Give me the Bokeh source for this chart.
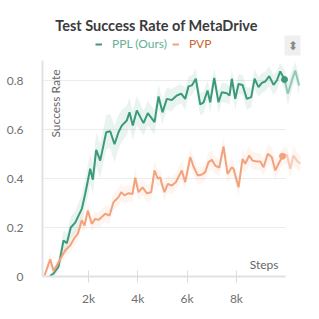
from bokeh.plotting import figure
from bokeh.models import (Legend, LegendItem, Label, FixedTicker, Range1d)
from bokeh.embed import file_html
from bokeh.resources import INLINE
import numpy as np

# ---------------- data ----------------
ppl_steps = [418, 580, 783, 986, 1120, 1282, 1460, 1728, 1866, 1972, 2069, 2175,
             2313, 2475, 2718, 2880, 3055, 3217, 3351, 3554, 3663, 3797, 3960,
             4231, 4406, 4678, 4840, 5002, 5177, 5380, 5582, 5761, 5923, 6057,
             6191, 6353, 6532, 6666, 6828, 6937, 7100, 7274, 7408, 7611, 7721,
             7814, 7952, 8086, 8248, 8422, 8601, 8735, 8897, 9031, 9169, 9331,
             9506, 9640, 9778, 9952, 10086, 10248, 10386, 10548]
ppl_rate = [0.0, 0.012, 0.04, 0.147, 0.136, 0.20, 0.22, 0.276, 0.337, 0.39, 0.44, 0.395,
            0.517, 0.473, 0.589, 0.593, 0.54, 0.589, 0.616, 0.637, 0.67, 0.616, 0.678,
            0.626, 0.667, 0.63, 0.735, 0.67, 0.725, 0.72, 0.739, 0.746, 0.725, 0.776,
            0.78, 0.807, 0.702, 0.711, 0.759, 0.711, 0.811, 0.711, 0.752, 0.748, 0.739,
            0.807, 0.725, 0.786, 0.782, 0.725, 0.732, 0.807, 0.773, 0.79, 0.796, 0.818,
            0.782, 0.80, 0.837, 0.804, 0.746, 0.80, 0.84, 0.78]
ppl_spread = [0.01, 0.015, 0.02, 0.04, 0.04, 0.045, 0.045, 0.06, 0.06, 0.065, 0.06, 0.06,
              0.07, 0.07, 0.07, 0.07, 0.075, 0.07, 0.065, 0.06, 0.06, 0.06, 0.06,
              0.05, 0.05, 0.05, 0.05, 0.05, 0.045, 0.045, 0.04, 0.04, 0.045, 0.04,
              0.04, 0.04, 0.045, 0.045, 0.04, 0.045, 0.04, 0.045, 0.04, 0.04, 0.04,
              0.04, 0.045, 0.04, 0.04, 0.045, 0.04, 0.04, 0.04, 0.04, 0.04, 0.04,
              0.04, 0.04, 0.035, 0.04, 0.045, 0.04, 0.035, 0.04]

pvp_steps = [215, 308, 446, 580, 714, 852, 1055, 1258, 1432, 1566, 1728, 1838, 1972,
             2134, 2272, 2406, 2678, 2852, 3014, 3217, 3327, 3461, 3623, 3785, 3895,
             4029, 4191, 4365, 4544, 4678, 4812, 4909, 4974, 5083, 5217, 5380, 5542,
             5785, 5923, 6126, 6260, 6434, 6597, 6735, 6869, 7003, 7140, 7303, 7477,
             7640, 7814, 7883, 8086, 8248, 8357, 8520, 8654, 8828, 8966, 9100, 9274,
             9437, 9575, 9709, 9871, 10045, 10183, 10317, 10451, 10589]
pvp_rate = [0.004, 0.03, 0.07, 0.024, 0.045, 0.07, 0.106, 0.127, 0.158, 0.174, 0.229, 0.208, 0.269,
            0.215, 0.235, 0.231, 0.256, 0.249, 0.303, 0.324, 0.344, 0.331, 0.34, 0.337, 0.403,
            0.344, 0.364, 0.34, 0.344, 0.433, 0.399, 0.405, 0.378, 0.344, 0.378, 0.371, 0.385,
            0.433, 0.385, 0.487, 0.449, 0.412, 0.416, 0.426, 0.467, 0.476, 0.453, 0.444, 0.531,
            0.419, 0.446, 0.44, 0.364, 0.48, 0.46, 0.494, 0.473, 0.469, 0.469, 0.446, 0.501,
            0.487, 0.433, 0.46, 0.491, 0.497, 0.44, 0.494, 0.473, 0.46]
pvp_spread = [0.01, 0.02, 0.03, 0.02, 0.02, 0.025, 0.025, 0.03, 0.03, 0.03, 0.035, 0.03, 0.035,
              0.03, 0.03, 0.03, 0.035, 0.035, 0.035, 0.035, 0.035, 0.035, 0.035, 0.035, 0.04,
              0.035, 0.035, 0.035, 0.035, 0.04, 0.035, 0.035, 0.035, 0.035, 0.035, 0.035, 0.035,
              0.04, 0.035, 0.04, 0.04, 0.035, 0.035, 0.035, 0.04, 0.04, 0.035, 0.035, 0.04,
              0.04, 0.035, 0.035, 0.04, 0.04, 0.04, 0.04, 0.035, 0.035, 0.035, 0.035, 0.04,
              0.04, 0.04, 0.035, 0.035, 0.035, 0.04, 0.04, 0.035, 0.035]

x_ticks = [2000, 4000, 6000, 8000]
x_tick_labels = ["2k", "4k", "6k", "8k"]
y_ticks = [0, 0.2, 0.4, 0.6, 0.8]
y_tick_labels = ["0", "0.2", "0.4", "0.6", "0.8"]
x_axis_end = 10000      # where the x axis / grid lines stop
y_axis_end = 0.88       # where the y axis line stops
highlight_step = 10000  # hover position: data beyond is drawn faded

GREEN = "#3a9a7a"
ORANGE = "#f2a27c"
FONT = "Lato"

# frame extends up over the title/legend area (which is drawn inside it)
FW, FH = 259, 264
PX_PER_UNIT = 245.0

p = figure(frame_width=FW, frame_height=FH, output_backend="svg", toolbar_location=None,
           x_range=Range1d(134, 10640), y_range=Range1d(0, FH / PX_PER_UNIT),
           min_border_left=42, min_border_right=4, min_border_top=12, min_border_bottom=30)
p.outline_line_color = None
p.xgrid.grid_line_color = None
p.ygrid.grid_line_color = None

# grid lines drawn from the tick list, ending at the axis end
gy = [t for t in y_ticks if t > 0]
p.segment(x0=[p.x_range.start] * len(gy), x1=[x_axis_end] * len(gy), y0=gy, y1=gy,
          line_color="#ececec", line_width=1)


def draw(steps, rate, spread, color, band_alpha):
    s = np.array(steps, dtype=float)
    r = np.array(rate)
    sp = np.array(spread)
    p.varea(x=s, y1=r - sp, y2=r + sp, fill_color=color, fill_alpha=band_alpha)
    idx = int(np.searchsorted(s, highlight_step, side="right"))
    main = p.line(s[:idx], r[:idx], line_color=color, line_width=2)
    p.line(s[idx - 1:], r[idx - 1:], line_color=color, line_width=2, line_alpha=0.5)
    p.scatter(s[idx - 1:idx], r[idx - 1:idx], size=6, color=color)
    return main


g = draw(ppl_steps, ppl_rate, ppl_spread, GREEN, 0.11)
o = draw(pvp_steps, pvp_rate, pvp_spread, ORANGE, 0.11)

# axes
xa = p.xaxis[0]
xa.ticker = FixedTicker(ticks=x_ticks)
xa.major_label_overrides = dict(zip(x_ticks, x_tick_labels))
xa.bounds = (p.x_range.start, x_axis_end)
xa.axis_line_color = "#e2e2e2"
xa.axis_line_width = 2
xa.major_tick_line_color = "#dcdcdc"
xa.major_tick_in = 6
xa.major_tick_out = 6
xa.minor_tick_line_color = None
xa.major_label_text_font = FONT
xa.major_label_text_font_size = "12px"
xa.major_label_text_color = "#707070"
xa.major_label_standoff = 8

ya = p.yaxis[0]
ya.ticker = FixedTicker(ticks=y_ticks)
ya.major_label_overrides = dict(zip(y_ticks, y_tick_labels))
ya.bounds = (0, y_axis_end)
ya.axis_line_color = "#e2e2e2"
ya.axis_line_width = 2
ya.major_tick_line_color = None
ya.minor_tick_line_color = None
ya.major_label_text_font = FONT
ya.major_label_text_font_size = "12px"
ya.major_label_text_color = "#707070"
ya.major_label_standoff = 13

# title (screen units measured from the frame's bottom-left)
p.add_layout(Label(x=114, y=251, x_units="screen", y_units="screen",
                   text="Test Success Rate of MetaDrive", text_font=FONT,
                   text_font_style="bold", text_font_size="14.5px", text_color="#3b3b3b",
                   text_align="center", text_baseline="middle"))

# axis titles inside the frame
p.add_layout(Label(x=13, y=207, x_units="screen", y_units="screen",
                   text="Success Rate", angle=np.pi / 2, text_font=FONT,
                   text_font_size="12px", text_color="#666666",
                   text_align="right", text_baseline="middle"))
p.add_layout(Label(x=236, y=5, x_units="screen", y_units="screen",
                   text="Steps", text_font=FONT, text_font_size="12px",
                   text_color="#666666", text_align="right", text_baseline="bottom"))

# legends
common = dict(orientation="horizontal", background_fill_alpha=0, border_line_color=None,
              padding=0, margin=0, spacing=0, glyph_width=7, glyph_height=12,
              label_standoff=10, label_text_font=FONT, label_text_font_size="12px",
              label_height=12)
leg1 = Legend(items=[LegendItem(label="PPL (Ours)", renderers=[g])], location=(53, 225),
              label_text_color="#62b096", **common)
leg2 = Legend(items=[LegendItem(label="PVP", renderers=[o])], location=(130, 225),
              label_text_color="#c8642c", **common)
p.add_layout(leg1)
p.add_layout(leg2)

# sort icon
p.add_layout(Label(x=250, y=231, x_units="screen", y_units="screen", text="⬍",
                   text_font_size="12px", text_color="#8a8a8a",
                   background_fill_color="#efefef", text_align="center",
                   text_baseline="middle", padding=3))

open("out.html", "w").write(file_html(p, INLINE))
